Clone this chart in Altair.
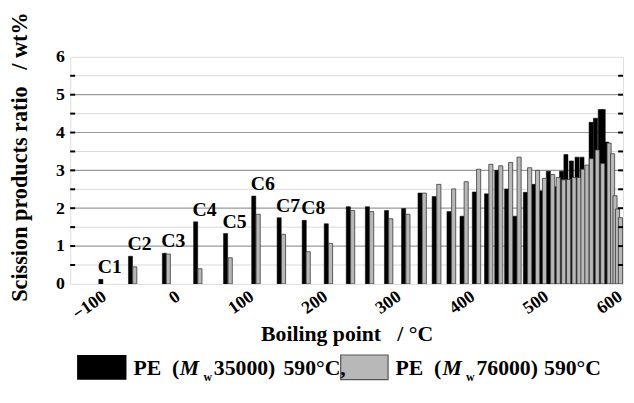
import altair as alt
import pandas as pd

# PE (Mw 35000) 590 °C  -- black bars
bp_black = [-111.2, -71.0, -25.0, 17.4, 58.0, 96.2, 130.7, 164.7, 194.6, 224.5,
            250.4, 276.3, 299.5, 321.8, 341.0, 361.1, 378.8, 395.5, 412.0, 425.9,
            439.3, 450.4, 464.7, 475.9, 487.0, 495.9, 507.1, 513.8, 519.7, 527.1,
            534.8, 541.5, 553.9, 559.8, 566.3, 570.3, 575.0]
val_black = [0.12, 0.73, 0.81, 1.64, 1.33, 2.32, 1.75, 1.68, 1.59, 2.04,
             2.04, 1.94, 1.99, 2.40, 2.31, 1.91, 1.79, 2.43, 2.38, 3.00,
             2.51, 1.79, 2.42, 2.63, 2.46, 2.98, 2.57, 2.98, 3.42, 3.25,
             3.35, 3.35, 4.27, 4.38, 4.61, 4.61, 3.75]

# PE (Mw 76000) 590 °C  -- gray bars
bp_gray = [-65.2, -19.7, 23.2, 64.3, 102.2, 136.6, 170.1, 200.4, 230.4, 256.2,
           282.1, 305.4, 327.6, 347.3, 367.4, 384.4, 401.3, 417.9, 431.3, 444.7,
           456.2, 470.5, 481.2, 490.6, 501.7, 509.3, 516.7, 523.4, 530.8, 537.5,
           542.8, 548.2, 554.2, 562.2, 569.6, 578.3, 583.0, 586.3, 589.7, 593.7]
val_gray = [0.45, 0.79, 0.40, 0.69, 1.84, 1.31, 0.85, 1.07, 1.94, 1.91,
            1.72, 1.84, 2.40, 2.63, 2.51, 2.70, 3.03, 3.16, 3.12, 3.21,
            3.35, 3.07, 3.00, 2.79, 2.89, 2.81, 2.75, 2.76, 2.81, 2.81,
            3.03, 3.14, 3.31, 3.54, 3.18, 3.72, 3.44, 2.33, 1.98, 1.75]

# carbon-number labels (placed over the first black bars)
c_labels = ["C1", "C2", "C3", "C4", "C5", "C6", "C7", "C8"]

x_ticks = [-100, 0, 100, 200, 300, 400, 500, 600]
y_ticks = [0, 1, 2, 3, 4, 5, 6]
y_major_grid = [1, 2, 3, 4, 5]
y_minor_grid = [0.5, 1.5, 2.5, 3.5, 4.5, 5.5]
y_tick_marks = [0.5, 1, 1.5, 2, 2.5, 3, 3.5, 4, 4.5, 5, 5.5]

W, H = 560, 230
BW = 5.6  # bar width in °C
FONT = "Liberation Serif"
NB = "\u00a0"
DX = 2  # legend shift

df_b = pd.DataFrame({"bp": bp_black, "v": val_black})
df_g = pd.DataFrame({"bp": bp_gray, "v": val_gray})
df_lab = pd.DataFrame({"bp": bp_black[:8], "v": val_black[:8], "name": c_labels})

xs = alt.Scale(domain=[-150, 600], nice=False, zero=False)
ys = alt.Scale(domain=[0, 6], nice=False, zero=True)

xaxis = alt.Axis(values=x_ticks, title=f"Boiling point{NB*3}/{NB}°C", grid=False,
                 labelAngle=325, labelAlign="right", labelBaseline="alphabetic",
                 labelPadding=15, labelOffset=0, tickSize=0, domain=False,
                 labelFont=FONT, labelFontSize=18, labelFontWeight="bold", labelColor="black",
                 titleFont=FONT, titleFontSize=22, titleFontWeight="bold", titleColor="black",
                 titleY=57, titleBaseline="alphabetic", labelFlush=False, labelOverlap=False)
yaxis = alt.Axis(values=y_ticks, title=f"Scission products ratio{NB*3}/{NB}wt%", grid=False,
                 tickSize=0, labelPadding=6, domain=False,
                 labelFont=FONT, labelFontSize=18, labelFontWeight="bold", labelColor="black",
                 titleFont=FONT, titleFontSize=22.5, titleFontWeight="bold", titleColor="black",
                 titleAngle=270, titleX=-51, titleY=101, titleAlign="center",
                 titleBaseline="middle", labelFlush=False)

Y = alt.Y("v:Q", scale=ys, axis=yaxis)

minor = alt.Chart(pd.DataFrame({"y": y_minor_grid})).mark_rule(
    color="#d8d8d8", strokeWidth=1).encode(y=alt.Y("y:Q", scale=ys, axis=yaxis))
major = alt.Chart(pd.DataFrame({"y": y_major_grid})).mark_rule(
    color="#9a9a9a", strokeWidth=1.2).encode(y=alt.Y("y:Q", scale=ys, axis=yaxis))

black = alt.Chart(df_b).transform_calculate(bp2=f"datum.bp + {BW}").mark_bar(
    color="black", stroke="black", strokeWidth=0.5, clip=True).encode(
    x=alt.X("bp:Q", scale=xs, axis=xaxis), x2="bp2:Q", y=Y, y2=alt.datum(0))

gray = alt.Chart(df_g).transform_calculate(bp2=f"datum.bp + {BW}").mark_bar(
    color="#b8b8b8", stroke="#3a3a3a", strokeWidth=0.8, clip=True).encode(
    x=alt.X("bp:Q", scale=xs, axis=xaxis), x2="bp2:Q", y=Y, y2=alt.datum(0))

tick_df = pd.DataFrame({"y": y_tick_marks})
ticks_l = alt.Chart(tick_df).mark_rule(color="black", strokeWidth=2).encode(
    y=alt.Y("y:Q", scale=ys, axis=yaxis), x=alt.value(0), x2=alt.value(5))
ticks_r = alt.Chart(tick_df).mark_rule(color="black", strokeWidth=2).encode(
    y=alt.Y("y:Q", scale=ys, axis=yaxis), x=alt.value(W - 5), x2=alt.value(W))

labels = alt.Chart(df_lab).mark_text(
    align="left", baseline="alphabetic", dx=-1, dy=-6, font=FONT, fontSize=20,
    fontWeight="bold", color="black").encode(
    x=alt.X("bp:Q", scale=xs, axis=xaxis), y=Y, text="name:N")

# legend drawn by hand (italic M with subscript w)
LY = 322
def txt(s, x, y=LY, size=22, style="normal"):
    return alt.Chart().mark_text(text=s, align="left", baseline="alphabetic", font=FONT,
                                 fontSize=size, fontWeight="bold", fontStyle=style,
                                 color="black").encode(x=alt.value(x + DX), y=alt.value(y))

leg_black = alt.Chart().mark_rect(color="black").encode(
    x=alt.value(5 + DX), x2=alt.value(55 + DX), y=alt.value(302), y2=alt.value(327))
leg_gray = alt.Chart().mark_rect(color="#b8b8b8", stroke="#555555", strokeWidth=1.2).encode(
    x=alt.value(272 + DX), x2=alt.value(320 + DX), y=alt.value(302), y2=alt.value(327))

legend = [leg_black, leg_gray,
          txt(f"PE{NB}{NB}(", 62), txt("M", 109, style="italic"), txt("w", 133, LY + 6, 12),
          txt("35000)", 143.5), txt("590°C,", 214),
          txt(f"PE{NB}{NB}(", 327.5), txt("M", 375, style="italic"), txt("w", 399, LY + 6, 12),
          txt("76000)", 409.5), txt("590°C", 478)]

chart = alt.layer(minor, major, black, gray, ticks_l, ticks_r, labels, *legend).properties(
    width=W, height=H,
    autosize=alt.AutoSizeParams(type="none"),
    padding={"left": 63, "top": 47, "right": 3, "bottom": 105},
).configure_view(stroke="black", strokeWidth=2.5).configure(background="white")

chart.save("out.html", embed_options={"renderer": "svg", "actions": False})
